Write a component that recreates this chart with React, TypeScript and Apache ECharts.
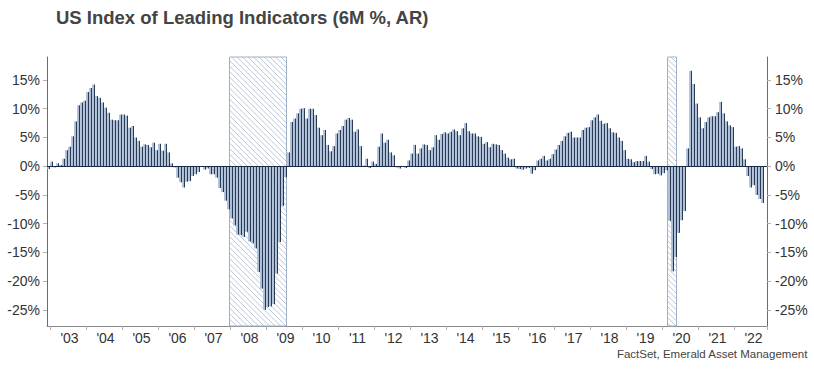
import React, { useEffect, useRef } from "react";
import * as echarts from "echarts";

// Monthly categories: Dec 2002 .. Nov 2022
const startYear = 2002;
const startMonth = 12;
const monthCount = 240;
const categories: string[] = [];
for (let i = 0; i < monthCount; i++) {
  const m0 = startMonth - 1 + i;
  const y = startYear + Math.floor(m0 / 12);
  const m = (m0 % 12) + 1;
  categories.push(`${y}-${m < 10 ? "0" + m : m}`);
}

// US LEI, 6-month % change annualized (Dec 2002 .. Oct 2022)
const lei6mAR: number[] = [
  -0.5, 0.8, -0.2, 0.5, 0.2, 1.3, 2.8, 3.4, 5.2, 7.8,
  10.6, 11.1, 11.4, 12.9, 13.6, 14.2, 12.2, 11.9, 11.1, 10.2,
  9.3, 8.1, 8.0, 8.0, 9.0, 9.0, 8.8, 6.7, 7.0, 5.0,
  4.4, 3.4, 3.8, 3.7, 3.3, 4.1, 2.8, 3.9, 2.7, 3.9,
  2.4, 0.5, -0.2, -2.0, -2.8, -3.7, -2.7, -2.6, -1.7, -1.4,
  -1.0, -0.1, -0.6, -0.4, -1.4, -1.4, -2.0, -3.8, -4.5, -6.0,
  -7.5, -9.1, -10.3, -11.9, -12.0, -12.3, -11.4, -13.1, -13.4, -14.3,
  -18.4, -21.3, -25.0, -24.5, -24.4, -24.0, -18.7, -13.2, -6.9, -1.9,
  2.4, 7.7, 8.3, 9.2, 10.0, 10.1, 8.3, 10.0, 10.0, 8.9,
  6.7, 5.4, 6.3, 3.7, 2.6, 3.5, 5.7, 6.3, 7.0, 8.1,
  8.4, 8.1, 6.0, 6.4, 3.5, 0.1, 1.3, -0.3, 0.8, 0.4,
  3.4, 5.7, 4.1, 4.6, 2.4, 1.9, -0.2, -0.4, -0.1, -0.3,
  1.0, 2.2, 3.7, 2.2, 3.1, 3.8, 3.7, 2.8, 3.3, 5.4,
  4.6, 5.6, 5.9, 5.7, 6.0, 6.4, 6.1, 5.4, 6.6, 7.5,
  6.1, 5.7, 5.7, 5.2, 5.1, 3.9, 4.2, 3.3, 3.9, 3.8,
  3.7, 2.8, 2.2, 1.5, 1.2, 1.3, -0.4, -0.5, -0.6, -0.4,
  -0.3, -1.3, -0.7, 1.0, 1.3, 1.8, 1.0, 1.3, 2.1, 2.9,
  3.7, 4.4, 5.2, 5.8, 6.0, 5.0, 5.0, 5.0, 6.3, 6.7,
  6.8, 8.0, 8.5, 9.0, 7.9, 7.4, 7.5, 6.6, 5.9, 5.8,
  5.0, 4.4, 2.8, 1.3, 1.2, 0.7, 0.9, 0.9, 0.9, 1.8,
  0.8, -0.5, -1.4, -1.3, -1.6, -1.2, -0.7, -9.5, -18.3, -15.8,
  -11.6, -9.4, -7.8, 3.1, 16.6, 14.3, 10.9, 8.5, 6.6, 7.7,
  8.5, 8.7, 8.7, 9.4, 11.2, 9.2, 7.8, 7.1, 6.8, 3.4,
  3.5, 3.1, 1.2, -1.7, -3.7, -3.3, -5.0, -5.7, -6.4,
];

// Recession shading: [peak month, month after trough]
const recessions: [string, string][] = [
  ["2007-12", "2009-07"],
  ["2020-02", "2020-05"],
];

const yTickValues = [-25, -20, -15, -10, -5, 0, 5, 10, 15];

const titleText = "US Index of Leading Indicators (6M %, AR)";
const sourceText = "FactSet, Emerald Asset Management";

const FONT = "'Liberation Sans', Arial, Helvetica, sans-serif";

export default function App() {
  const ref = useRef<HTMLDivElement>(null);

  useEffect(() => {
    if (!ref.current) return;
    const chart = echarts.init(ref.current, null, { renderer: "svg" });

    const dark = "#0f203d";
    const light = "#abbdd6";
    const barColor = new echarts.graphic.LinearGradient(0, 0, 1, 0, [
      { offset: 0, color: light },
      { offset: 0.52, color: light },
      { offset: 0.52, color: dark },
      { offset: 1, color: dark },
    ]);

    const recessionData = recessions.map(([a, b]) => [
      categories.indexOf(a),
      categories.indexOf(b),
    ]);

    const yAxisCommon = {
      type: "value" as const,
      min: -27.8,
      max: 19,
      splitLine: { show: false },
      axisLine: { show: true, lineStyle: { color: "#6b6b6b", width: 1 } },
      axisTick: {
        show: true,
        length: 4,
        lineStyle: { color: "#b0b0b0" },
        customValues: yTickValues,
      },
      axisLabel: {
        customValues: yTickValues,
        formatter: (v: number) => `${v}%`,
        fontSize: 14,
        color: "#333333",
        fontFamily: FONT,
      },
    };

    const option: any = {
      animation: false,
      title: {
        text: titleText,
        left: 51,
        top: 3,
        textStyle: {
          fontSize: 18.5,
          fontWeight: "bold",
          color: "#444444",
          fontFamily: FONT,
        },
      },
      grid: { left: 47, right: 47, top: 57, bottom: 46, containLabel: false },
      xAxis: {
        type: "category",
        data: categories,
        boundaryGap: true,
        axisLine: { show: true, onZero: false, lineStyle: { color: "#8a8a8a" } },
        axisTick: {
          show: true,
          length: 4,
          alignWithLabel: false,
          interval: (i: number, v: string) => v.endsWith("-01"),
          lineStyle: { color: "#b0b0b0" },
        },
        axisLabel: {
          interval: (i: number, v: string) => v.endsWith("-07"),
          formatter: (v: string) => `'${v.slice(2, 4)}`,
          fontSize: 14,
          color: "#333333",
          margin: 5,
          fontFamily: FONT,
        },
        splitLine: { show: false },
      },
      yAxis: [
        { ...yAxisCommon, position: "left", axisLabel: { ...yAxisCommon.axisLabel, margin: 7 } },
        { ...yAxisCommon, position: "right", axisLabel: { ...yAxisCommon.axisLabel, margin: 8 } },
      ],
      series: [
        {
          type: "custom",
          z: 1,
          silent: true,
          clip: false,
          data: recessionData,
          encode: { x: [0, 1] },
          renderItem: (params: any, api: any) => {
            const cs = params.coordSys;
            const x1 = Math.round(api.coord([api.value(0), 0])[0]) + 0.5;
            const x2 = Math.round(api.coord([api.value(1), 0])[0]) + 0.5;
            const y1 = cs.y;
            const y2 = cs.y + cs.height;
            const children: any[] = [
              {
                type: "rect",
                shape: { x: x1, y: y1, width: x2 - x1, height: y2 - y1 },
                style: { fill: "#ffffff", stroke: "none" },
              },
            ];
            const step = 5.5;
            for (let c = y1 - x2; c <= y2 - x1; c += step) {
              const xs = Math.max(x1, y1 - c);
              const xe = Math.min(x2, y2 - c);
              if (xe > xs) {
                children.push({
                  type: "line",
                  shape: { x1: xs, y1: xs + c, x2: xe, y2: xe + c },
                  style: { stroke: "#bcc8da", lineWidth: 1 },
                });
              }
            }
            children.push({
              type: "rect",
              shape: { x: x1, y: y1, width: x2 - x1, height: y2 - y1 },
              style: { fill: "none", stroke: "#9fafc6", lineWidth: 1 },
            });
            return { type: "group", children };
          },
        },
        {
          type: "bar",
          z: 2,
          data: lei6mAR,
          barCategoryGap: "8%",
          itemStyle: { color: barColor },
          markLine: {
            silent: true,
            symbol: "none",
            label: { show: false },
            lineStyle: { color: "#1a2a45", width: 1, type: "solid" },
            data: [{ yAxis: 0 }],
          },
        },
      ],
      graphic: [
        {
          type: "text",
          right: 6,
          top: 348,
          style: {
            text: sourceText,
            font: `11.5px ${FONT}`,
            fill: "#444444",
          },
        },
      ],
    };

    chart.setOption(option);
    return () => chart.dispose();
  }, []);

  return <div ref={ref} style={{ width: 814, height: 372, position: "absolute", left: 0, top: 0 }} />;
}
